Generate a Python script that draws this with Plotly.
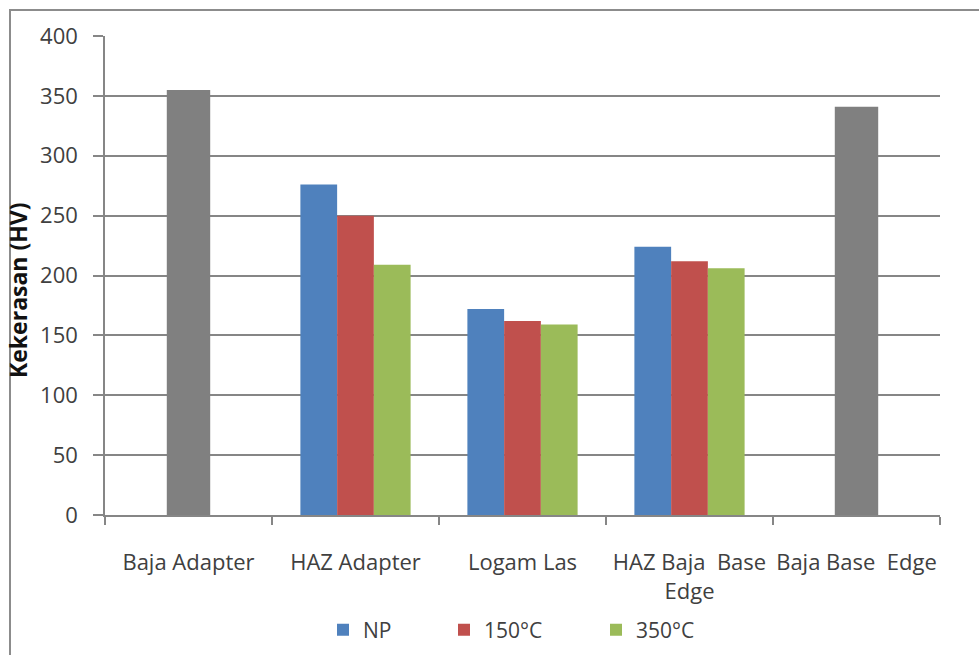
import plotly.graph_objects as go

# ---- data ----
categories = ["Baja Adapter", "HAZ Adapter", "Logam Las", "HAZ Baja Base Edge", "Baja Base Edge"]
tick_labels = ["Baja Adapter", "HAZ Adapter", "Logam Las", "HAZ Baja  Base<br>Edge", "Baja Base  Edge"]
series_names = ["NP", "150°C", "350°C"]
np_values = [None, 276, 172, 224, None]
t150_values = [None, 250, 162, 212, None]
t350_values = [None, 209, 159, 206, None]
base_values = [355, None, None, None, 341]
y_ticks = [0, 50, 100, 150, 200, 250, 300, 350, 400]

colors = ["#4F81BD", "#C0504D", "#9BBB59"]
gray = "#808080"
font_family = "Open Sans"
text_color = "#404040"

# plot area geometry in pixels
W, H = 979, 655
L, R, T, B = 105, 39, 36, 140
pw, ph = W - L - R, H - T - B


def px_x(p):
    return (p - L) / pw


def px_y(p):
    return (H - B - p) / ph


fig = go.Figure()

for name, vals, col, lg in zip(series_names, [np_values, t150_values, t350_values], colors,
                               ["legend", "legend2", "legend3"]):
    fig.add_trace(go.Bar(x=categories, y=vals, name=name, marker=dict(color=col, line=dict(width=0)),
                         legend=lg))

fig.add_trace(go.Bar(x=categories, y=base_values, name="Baja", marker=dict(color=gray, line=dict(width=0)),
                     width=0.26, offset=-0.13, showlegend=False))

legend_common = dict(orientation="h", yanchor="middle", xanchor="left", bgcolor="rgba(0,0,0,0)",
                     font=dict(family=font_family, size=21, color=text_color))

fig.update_layout(
    width=W, height=H,
    margin=dict(l=L, r=R, t=T, b=B, autoexpand=False),
    paper_bgcolor="white", plot_bgcolor="white",
    barmode="group", bargap=0.34, bargroupgap=0,
    font=dict(family=font_family, color=text_color),
    legend=dict(x=px_x(323), y=px_y(630), **legend_common),
    legend2=dict(x=px_x(444), y=px_y(630), **legend_common),
    legend3=dict(x=px_x(596), y=px_y(630), **legend_common),
    xaxis=dict(
        categoryorder="array", categoryarray=categories,
        tickvals=categories, ticktext=tick_labels, automargin=False, tickangle=0,
        showline=True, linecolor="#868686", linewidth=1.5,
        ticks="outside", tickson="boundaries", ticklen=8, tickcolor="#868686", tickwidth=1.5,
        showgrid=False, ticklabelstandoff=27,
        tickfont=dict(family=font_family, size=22, color=text_color),
    ),
    yaxis=dict(
        range=[0, 400], tickvals=y_ticks, automargin=False,
        showgrid=True, gridcolor="#868686", gridwidth=1.5,
        showline=True, linecolor="#868686", linewidth=1.5,
        ticks="outside", ticklen=10, tickcolor="#868686", tickwidth=1.5,
        ticklabelstandoff=11, zeroline=False,
        tickfont=dict(family=font_family, size=22, color=text_color),
    ),
    annotations=[dict(
        text="<b>Kekerasan (HV)</b>", textangle=-90, xref="paper", yref="paper",
        x=px_x(18), y=px_y(290), xanchor="center", yanchor="middle", showarrow=False,
        font=dict(family=font_family, size=23, color="#111111"),
    )],
    shapes=[dict(
        type="rect", xref="paper", yref="paper",
        x0=px_x(10), x1=px_x(1100), y0=px_y(800), y1=px_y(10),
        line=dict(color="#8c8c8c", width=2), fillcolor="rgba(0,0,0,0)", layer="below",
    )],
)

fig.write_html("out.html")
